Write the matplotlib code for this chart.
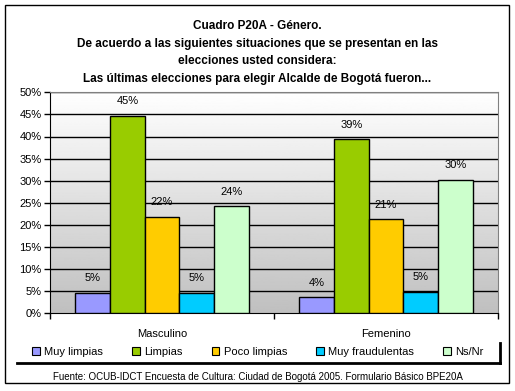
import numpy as np
import matplotlib
matplotlib.use('Agg')
import matplotlib.pyplot as plt
from matplotlib.patches import Rectangle
from matplotlib.lines import Line2D

plt.rcParams['font.family'] = ['Liberation Sans', 'DejaVu Sans']

# data (percent)
groups = ["Masculino", "Femenino"]
series = ["Muy limpias", "Limpias", "Poco limpias", "Muy fraudulentas", "Ns/Nr"]
masculino = [4.6, 44.7, 21.8, 4.6, 24.2]
femenino = [3.6, 39.4, 21.3, 4.9, 30.2]
colors = ["#9999ff", "#99cc00", "#ffcc00", "#00ccff", "#ccffcc"]
yticks = [0, 5, 10, 15, 20, 25, 30, 35, 40, 45, 50]

title = ("Cuadro P20A - Género.\n"
         "De acuerdo a las siguientes situaciones que se presentan en las\n"
         "elecciones usted considera:\n"
         "Las últimas elecciones para elegir Alcalde de Bogotá fueron...")
source = "Fuente: OCUB-IDCT Encuesta de Cultura: Ciudad de Bogotá 2005. Formulario Básico BPE20A"

W, H = 515, 391
fig = plt.figure(figsize=(W / 100, H / 100), dpi=100)
fig.patch.set_facecolor("white")

def fx(px):
    return px / W

def fy(py):
    return 1 - py / H

# outer frame
fig.add_artist(Rectangle((fx(5), fy(383)), fx(504), 378 / H, transform=fig.transFigure,
                         fill=False, edgecolor="black", linewidth=1))

fig.text(0.5, fy(52.5), title, ha="center", va="center", fontsize=8.5,
         fontweight="bold", linespacing=1.6)

ax = fig.add_axes([fx(50), fy(313.3), fx(448), 221 / H])

# gradient background
grad = np.linspace(1, 0, 256).reshape(-1, 1)
ax.imshow(grad, extent=[-0.5, 1.5, 0, 50], aspect="auto", cmap=plt.cm.gray,
          vmin=-3.0, vmax=1.0, zorder=0, origin="upper")

ax.set_xlim(-0.5, 1.5)
ax.set_ylim(0, 50)
ax.set_yticks(yticks)
ax.set_yticklabels([f"{t}%" for t in yticks], fontsize=8)
for t in yticks[1:]:
    ax.axhline(t, color="black", linewidth=1, zorder=1)

width = 0.1545
data = [masculino, femenino]
x = np.arange(len(groups))
for i, name in enumerate(series):
    vals = [d[i] for d in data]
    pos = x + (i - 2) * width
    ax.bar(pos, vals, width, color=colors[i], edgecolor="black", linewidth=1,
           zorder=3, label=name)
    for p, v in zip(pos, vals):
        ax.annotate(f"{v:.0f}%", (p, v), xytext=(0, 10.5), textcoords="offset points",
                    ha="center", va="center", fontsize=8)

ax.set_xticks([-0.5, 0.5, 1.5])
ax.set_xticklabels([])
ax.set_xticks(x, minor=True)
ax.set_xticklabels(groups, minor=True, fontsize=8)
ax.tick_params(axis="x", which="minor", length=0, pad=11)
ax.tick_params(axis="x", which="major", length=4, direction="out", width=1)
ax.tick_params(axis="y", length=4, direction="out", width=1, pad=2)

for s in ["top", "right"]:
    ax.spines[s].set_color("#808080")
ax.spines["left"].set_color("black")
ax.spines["bottom"].set_color("black")

leg = fig.legend(loc="center", bbox_to_anchor=(fx(258), fy(352)), ncol=5,
                 fontsize=8, frameon=False, handlelength=0.7, handleheight=0.7,
                 handletextpad=0.4, columnspacing=2.6, borderpad=0)
for h in leg.legend_handles:
    h.set_linewidth(0.8)

# legend shadow lines
fig.add_artist(Line2D([fx(17), fx(500)], [fy(363), fy(363)], transform=fig.transFigure,
                      color="black", linewidth=2))
fig.add_artist(Line2D([fx(500), fx(500)], [fy(343), fy(363)], transform=fig.transFigure,
                      color="black", linewidth=2))

fig.text(0.5, fy(377), source, ha="center", va="center", fontsize=7)

fig.savefig("out.png", dpi=100)
